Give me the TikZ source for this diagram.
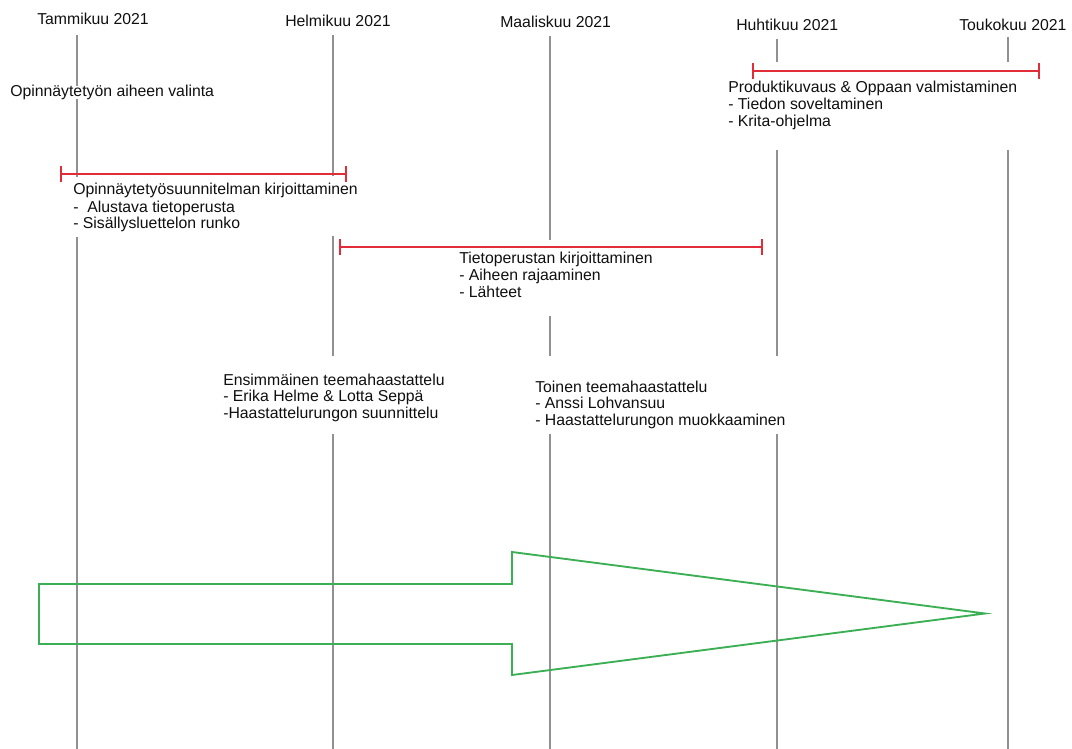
\documentclass[tikz,border=0pt]{standalone}
\usepackage{fontspec}
\setmainfont{Liberation Sans}
\usetikzlibrary{arrows.meta}
\definecolor{gridgray}{RGB}{145,145,145}
\definecolor{barred}{RGB}{225,45,55}
\definecolor{arrowgreen}{RGB}{60,175,85}
\definecolor{txt}{RGB}{15,15,15}
\begin{document}
\begin{tikzpicture}[x=0.75pt,y=-0.75pt,
  vline/.style={draw=gridgray,line width=0.9pt},
  bar/.style={draw=barred,line width=1.35pt,{Bar[width=12pt]}-{Bar[width=12pt]}},
  lbl/.style={anchor=base west,inner sep=0pt,text=txt,font=\fontsize{11.85}{14}\selectfont},
  bigarrow/.style={draw=arrowgreen,line width=1.4pt,line join=miter}]
\useasboundingbox (0,0) rectangle (1072,749);

% vertical month lines (segments, interrupted by the text blocks)
\draw[vline] (77,35) -- (77,86);
\draw[vline] (77,99) -- (77,177);
\draw[vline] (77,237) -- (77,749);
\draw[vline] (333,35) -- (333,176);
\draw[vline] (333,236) -- (333,356);
\draw[vline] (333,434) -- (333,749);
\draw[vline] (550,36) -- (550,240);
\draw[vline] (550,316) -- (550,356);
\draw[vline] (550,434) -- (550,749);
\draw[vline] (777,39) -- (777,62);
\draw[vline] (777,150) -- (777,356);
\draw[vline] (777,434) -- (777,749);
\draw[vline] (1008,37) -- (1008,62);
\draw[vline] (1008,150) -- (1008,749);

% month labels
\node[lbl] (m1) at (37,25) {Tammikuu 2021};
\node[lbl] (m2) at (285,27) {Helmikuu 2021};
\node[lbl] (m3) at (500,28) {Maaliskuu 2021};
\node[lbl] (m4) at (736,31) {Huhtikuu 2021};
\node[lbl] (m5) at (959,31) {Toukokuu 2021};

% red period bars
\coordinate (r1a) at (60,174);  \coordinate (r1b) at (347,174);
\coordinate (r2a) at (339,247); \coordinate (r2b) at (763,247);
\coordinate (r3a) at (752,71);  \coordinate (r3b) at (1040,71);
\draw[bar] (r1a) -- (r1b);
\draw[bar] (r2a) -- (r2b);
\draw[bar] (r3a) -- (r3b);

% texts
\node[lbl] (a1) at (10,97) {Opinnäytetyön aiheen valinta};

\node[lbl] (b1) at (73,195) {Opinnäytetyösuunnitelman kirjoittaminen};
\node[lbl] (b2) at (73,212) {-\ \ Alustava tietoperusta};
\node[lbl] (b3) at (73,228.5) {- Sisällysluettelon runko};

\node[lbl] (c1) at (459,263) {Tietoperustan kirjoittaminen};
\node[lbl] (c2) at (459,280) {- Aiheen rajaaminen};
\node[lbl] (c3) at (459,297) {- Lähteet};

\node[lbl] (d1) at (728,93) {Produktikuvaus \& Oppaan valmistaminen};
\node[lbl] (d2) at (728,110) {- Tiedon soveltaminen};
\node[lbl] (d3) at (728,127) {- Krita-ohjelma};

\node[lbl] (e1) at (223,385) {Ensimmäinen teemahaastattelu};
\node[lbl] (e2) at (223,401.5) {- Erika Helme \& Lotta Seppä};
\node[lbl] (e3) at (223,418.5) {-Haastattelurungon suunnittelu};

\node[lbl] (f1) at (535,392) {Toinen teemahaastattelu};
\node[lbl] (f2) at (535,408.5) {- Anssi Lohvansuu};
\node[lbl] (f3) at (535,425.5) {- Haastattelurungon muokkaaminen};

% big green arrow
\draw[bigarrow] (39,584) -- (512,584) -- (512,552) -- (985,613.5)
  -- (512,675) -- (512,644) -- (39,644) -- cycle;
\end{tikzpicture}
\end{document}
